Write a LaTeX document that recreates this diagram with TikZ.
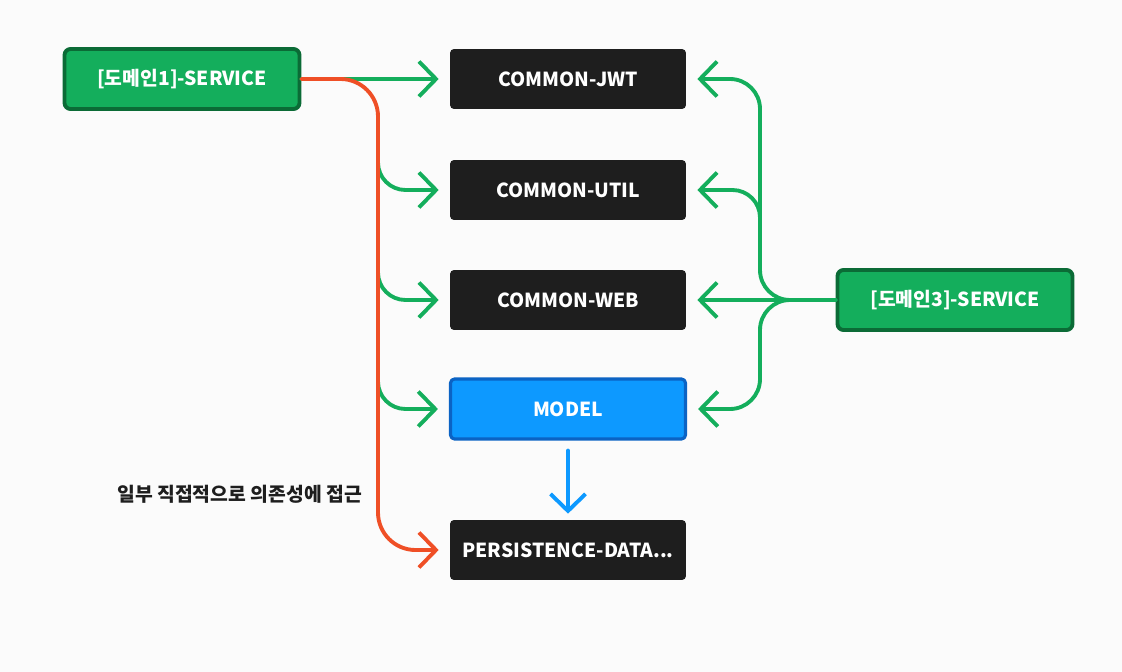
\documentclass[tikz,border=0pt]{standalone}
\usepackage{fontspec}
\setmainfont{Noto Sans CJK KR}
\usetikzlibrary{arrows.meta}
\definecolor{bgc}{HTML}{FBFBFB}
\definecolor{gfill}{HTML}{14AE5C}
\definecolor{gdark}{HTML}{0B6B36}
\definecolor{dbox}{HTML}{1E1E1E}
\definecolor{bfill}{HTML}{0D99FF}
\definecolor{bdark}{HTML}{0B63C4}
\definecolor{rline}{HTML}{EF4F26}
\tikzset{
  svcbox/.style={draw=gdark, fill=gfill, line width=2.2pt, rounded corners=0.12cm, minimum width=4.7cm, minimum height=1.2cm, text=white, font=\bfseries\fontsize{11pt}{0pt}\selectfont},
  modbox/.style={fill=dbox, rounded corners=0.08cm, minimum width=4.72cm, minimum height=1.2cm, text=white, font=\bfseries\fontsize{11pt}{0pt}\selectfont},
  gline/.style={draw=gfill, line width=2.2pt, shorten >=0.22cm},
  rlink/.style={draw=rline, line width=2.2pt, shorten >=0.22cm}
}
\begin{document}
\begin{tikzpicture}[x=0.02cm, y=-0.02cm, line join=round, line cap=round, >={Straight Barb[length=0.34cm, width=0.7cm]}]
		\fill[bgc] (0,0) rectangle (1122,672);
		\useasboundingbox (0,0) rectangle (1122,672);
		% left and right services
		\node[svcbox] (dom1) at (182,79) {[도메인1]-SERVICE};
		\node[svcbox] (dom3) at (955,300) {[도메인3]-SERVICE};
		% common modules
		\node[modbox] (jwt) at (568,79) {COMMON-JWT};
		\node[modbox] (util) at (568,190) {COMMON-UTIL};
		\node[modbox] (web) at (568,300) {COMMON-WEB};
		\node[modbox, fill=bfill, draw=bdark, line width=1.8pt, minimum width=4.7cm, minimum height=1.2cm] (model) at (568,409) {MODEL};
		\node[modbox] (pdata) at (568,550) {PERSISTENCE-DATA...};
		\coordinate (lbus) at (378,0);
		\coordinate (rbus) at (760,0);
		% from domain1
		\draw[gline,->] (dom1.east) -- (jwt.west);
		\foreach \m in {util,web,model}
		{\draw[gline,->,rounded corners=0.55cm] (lbus |- \m.north) |- (\m.west);}
		\draw[rlink,->,rounded corners=0.75cm] (dom1.east) -| (lbus |- pdata.west) -- (pdata.west);
		\node[font=\bfseries\fontsize{11pt}{0pt}\selectfont, text=dbox, anchor=east] (note) at (368,494) {일부 직접적으로 의존성에 접근};
		% from domain3
		\draw[gline,->] (dom3.west) -- (web.east);
		\foreach \m in {jwt,model}
		{\draw[gline,->,rounded corners=0.6cm] (dom3.west) -| (rbus |- \m.east) -- (\m.east);}
		\draw[gline,->,rounded corners=0.55cm] (rbus |- util.south) |- (util.east);
		% model to persistence
		\draw[draw=bfill, line width=2.2pt, ->] (model.south) ++(0,10) coordinate (mtop) (mtop) -- ([yshift=0.12cm]pdata.north);
\end{tikzpicture}
\end{document}
